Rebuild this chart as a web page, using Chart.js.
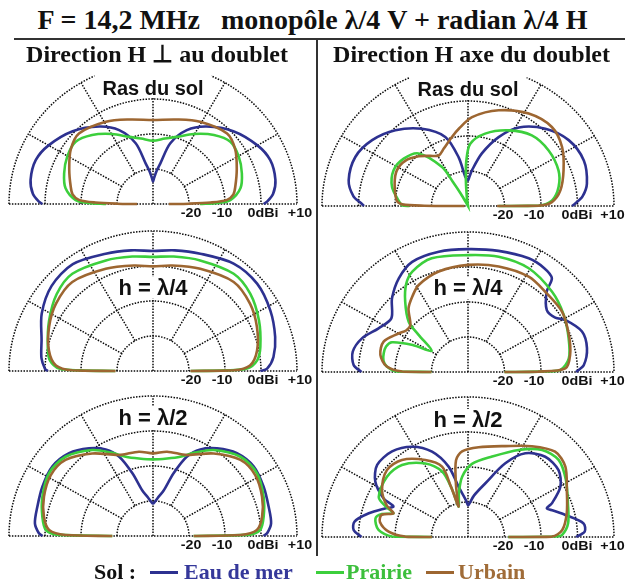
<!DOCTYPE html>
<html><head><meta charset="utf-8">
<script src="https://cdn.jsdelivr.net/npm/chart.js@4.4.0/dist/chart.umd.min.js"></script>
<style>
html,body{margin:0;padding:0;background:#fff;}
body{width:625px;height:583px;overflow:hidden;position:relative;font-family:"Liberation Serif","Times New Roman",serif;}
.t{position:absolute;white-space:pre;font-weight:bold;color:#111;line-height:1;z-index:5;}
canvas{position:absolute;z-index:1;}
.rule{position:absolute;background:#333;z-index:6;}
.dash{position:absolute;height:3px;z-index:5;}
</style></head><body>
<div class="t" style="left:0;width:625px;text-align:center;top:6px;font-size:28px;">F = 14,2 MHz   monopôle λ/4 V + radian λ/4 H</div>
<div class="rule" style="left:14px;width:611px;top:38px;height:2px;"></div>
<div class="rule" style="left:316px;width:2px;top:39px;height:517px;"></div>
<div class="t" style="left:0;width:314px;text-align:center;top:42px;font-size:24px;">Direction H ⊥ au doublet</div>
<div class="t" style="left:318px;width:307px;text-align:center;top:42px;font-size:24px;">Direction H axe du doublet</div>
<div id="legend"></div>
<script>
// ---- data: [elevation angle in degrees (0 = right horizon, 180 = left horizon), gain in dBi] ----
const RING_DB = [-20, -10, 0, 10];
const RING_LABELS = ['-20', '-10', '0dBi', '+10'];
const SPOKES = [30, 60, 90, 120, 150];
const SERIES_NAMES = ['Eau de mer', 'Prairie', 'Urbain'];
const PLOT_TITLES = ['Ras du sol', 'Ras du sol', 'h = λ/4', 'h = λ/4', 'h = λ/2', 'h = λ/2'];

const TL_SEA = [[0,0.7],[1.2,1.7],[5,3.5],[11.5,4.7],[21,4.9],[30,3.5],[43,0.5],[56,-3.3],[66,-6.9],[74.5,-12],[80,-18.2],[84,-20.5],[88,-22.7],[90,-23.6],[92,-22.7],[96,-20.5],[100,-18.2],[105.5,-12],[114,-6.9],[124,-3.3],[137,0.5],[150,3.5],[159,4.9],[168.5,4.7],[175,3.5],[178.8,1.7],[180,0.7]];
const TL_GRASS = [[0,-17],[1,-12],[3,-8.5],[10.5,-5.3],[19.6,-3.8],[29.6,-2.6],[39.6,-2.1],[49.4,-4],[60.5,-7],[70.8,-9.7],[80,-11],[90,-11.9],[100,-11],[109.2,-9.7],[119.5,-7],[130.6,-4],[140.4,-2.1],[150.4,-2.6],[160.4,-3.8],[169.5,-5.3],[177,-8.5],[179,-12],[180,-17]];
const TL_URBAN = [[0,-25.6],[0.5,-20],[1.5,-14],[3.3,-9.4],[7,-7.5],[12.3,-6.6],[22.6,-4.8],[34,-2.4],[44.4,-1.2],[60.9,-3.1],[75,-5],[90,-6],[105,-5],[119.1,-3.1],[135.6,-1.2],[146,-2.4],[157.4,-4.8],[167.7,-6.6],[173,-7.5],[176.7,-9.4],[178.5,-14],[179.5,-20],[180,-25.6]];

const TR_SEA = [[0,-1.5],[1.4,-0.6],[5,1.5],[11.1,3.2],[22.3,4.3],[34.3,3.4],[46.2,0.6],[58.2,-3.6],[66.9,-8.6],[75.8,-14.5],[83.8,-19.7],[88,-22],[90,-22.7],[92,-22.3],[95,-21.7],[100.5,-15.8],[107.5,-9.3],[119.7,-4.6],[132.6,-0.6],[144.4,2.3],[155.6,3.9],[167.4,3.5],[175,1.5],[178.6,-0.8],[180,-1.5]];
const TR_GRASS = [[0,-21.6],[0.3,-10.6],[4,-6.9],[12.3,-4.6],[22.3,-3.2],[35.7,-2.8],[49.1,-3.3],[62.8,-5.7],[77.2,-8.8],[88,-12.2],[92,-17],[94.5,-22.6],[98,-28],[104,-30],[116,-30],[119.5,-26],[121,-22],[122.6,-16.8],[132,-9.8],[142.5,-7.8],[153.4,-7.2],[165.4,-8.5],[176.6,-11.2],[179.5,-12],[180,-14]];
const TR_URBAN = [[0,-22],[0.3,-10.6],[2.8,-7],[10,-4.3],[21.3,-1.9],[33.2,0.8],[44.5,2.2],[57.8,1.2],[72.9,-1.4],[87.5,-4.6],[96.5,-7.8],[102.6,-9.8],[112,-12.3],[119,-13.5],[126,-12.3],[133.6,-10.4],[143.1,-8.5],[152.4,-8],[162.3,-8.9],[175.3,-10.4],[178.5,-12],[179.6,-18],[180,-29]];

const ML_SEA = [[0,-0.2],[1.2,1.7],[6.8,3.7],[16,5.3],[28,6.9],[40.8,8.2],[53.9,8],[68.6,6],[80,5],[90,4.3],[100,5],[111.4,6],[126.1,7.8],[139.2,7.2],[152,5],[164,2.2],[173.2,1.2],[178.8,0],[180,-0.8]];
const ML_GRASS = [[0,-19.5],[0.5,-10],[1.5,-3.9],[6,-0.9],[13,0.6],[26.2,2.8],[39.3,4.9],[51.1,5.7],[67.5,4.2],[80,3.2],[90,2.6],[100,3.2],[112.5,4.2],[128.9,5.7],[140.7,4.6],[153.8,2.2],[167,0],[174,-1.2],[178.5,-3.9],[179.5,-10],[180,-19.5]];
const ML_URBAN = [[0,-19.6],[0.5,-7.6],[3.4,-3],[11.5,-0.5],[23.6,1.5],[35.4,3.1],[48.6,3.9],[65.8,2],[80,0.6],[90,-0.1],[100,0.6],[114.2,2],[131.4,3.9],[144.6,3.1],[156.4,1.5],[168.5,-0.5],[176.6,-3],[179.5,-7.6],[180,-19.6]];

const MR_SEA = [[0,-0.4],[3.6,1.8],[11.8,3.3],[20.3,3.3],[29.2,0.5],[33,-1.5],[39.3,-2.1],[46.8,1.5],[49.4,5.3],[55,6.3],[62.9,6.5],[76.4,5.6],[90,5.1],[103.1,5.3],[115.9,5],[125.3,2.8],[134.7,-0.4],[143.9,-4],[153,-2.5],[161.7,0.6],[169.6,2.1],[176.3,1.4],[180,-0.8]];
const MR_GRASS = [[0,-20],[0.3,-10.6],[1.3,-4.7],[8,-2.1],[19.2,-0.8],[31.9,0.9],[45,2.5],[60.7,4],[75.7,4],[90,3.4],[107,4],[118,2.5],[124,0.3],[130.5,-3.5],[138.5,-8.3],[141.9,-12.8],[148.8,-18.4],[153,-13],[157.8,-7.5],[162,-6.4],[167,-6.3],[172,-6.6],[176,-7.7],[179.6,-10.5],[180,-20]];
const MR_URBAN = [[0,-20],[0.3,-10.8],[2.2,-3.3],[9.9,-1.6],[21,-0.4],[33.7,1],[47.3,1.2],[58.6,1.9],[74.4,1.3],[90,0.6],[105.6,-0.2],[118.5,-1.7],[125,-3.5],[131.9,-5.6],[139.7,-9.3],[145,-9.3],[150,-8],[159.4,-5.3],[168.5,-5.5],[176,-7.7],[179.6,-12],[180,-20]];

const BL_SEA = [[0,0.7],[1.4,1.7],[6.3,3],[14.6,3.2],[24.6,3.8],[35.3,4.3],[45.4,3.2],[54.6,0.7],[62,-2],[67.5,-5.5],[72.3,-11.2],[77,-16.6],[83,-19],[87,-20.2],[90,-20.7],[93,-20.2],[97,-19],[103,-16.6],[107.7,-11.2],[112.5,-5.5],[118,-2],[125.4,0.7],[134.6,3.2],[144.7,4.3],[155.4,3.8],[165.4,3.2],[173.7,3],[178.6,1.7],[180,0.7]];
const BL_GRASS = [[0,-18.7],[0.7,-3.9],[3.3,-0.2],[10,1.2],[20,2.7],[31.8,4],[43,3.2],[55.5,-0.2],[64,-3.5],[71.5,-6.1],[80,-7.5],[90,-8.1],[100,-7.5],[108.5,-6.1],[116,-3.5],[124.5,-0.2],[137,3.2],[148.2,4],[160,2.7],[170,1.2],[176.7,-0.2],[179.3,-3.9],[180,-18.7]];
const BL_URBAN = [[0,-18.7],[0.7,-5.7],[3.4,-1.1],[10.3,0.8],[20.3,2.3],[31.5,3.3],[41.8,2.6],[54.4,-1],[67.9,-5],[80.8,-5.6],[90,-6.4],[99.2,-5.6],[112.1,-5],[125.6,-1],[138.2,2.6],[148.5,3.3],[159.7,2.3],[169.7,0.8],[176.6,-1.1],[179.3,-5.7],[180,-18.7]];

const BR_SEA = [[0,-0.4],[2.7,2],[7,1.9],[13.3,-2.6],[18,-5.5],[20.8,-6.9],[22.7,-5.1],[29.6,-0.9],[37.6,1.3],[47.3,1.2],[56.7,-1.4],[64.1,-6.6],[72.9,-14],[82,-18],[88,-20.5],[90,-20.9],[93,-19.5],[100.2,-15.4],[104.8,-9.2],[112,-3.7],[120.7,0],[130.4,2.1],[140.4,2.3],[148.1,-0.1],[154.5,-4.4],[156.9,-7.8],[160,-6],[166,-2],[171.9,1.4],[176.3,1.4],[180,-0.8]];
const BR_GRASS = [[0,-19],[0.3,-6],[1.3,-4.2],[8.1,-2.3],[19.3,-1],[31.3,1.4],[41.6,3.2],[50.8,2.1],[60.8,-1.5],[74,-6.1],[87,-9.1],[95.3,-12.7],[101,-17],[104.5,-20],[106.6,-20.9],[108,-15],[110.8,-10],[119,-6],[131.3,-2.6],[142.2,-1.9],[154.9,-3],[159,-6],[161.6,-8.5],[164.5,-5.5],[168.2,-4.1],[175.3,-5.4],[179.6,-9.2],[180,-20.1]];
const BR_URBAN = [[0,-18.9],[0.3,-7],[4.4,-4.1],[14.1,-2.1],[26.3,0.2],[37,3.4],[45.6,4.1],[56,1.3],[68.6,-2.1],[83.5,-4.2],[93.8,-5.5],[98.5,-7.8],[102.2,-14.3],[105,-19],[106.6,-20.9],[108,-15],[109.5,-8.7],[118,-5.1],[129.4,-1.5],[139.3,-0.7],[150.4,-2.9],[158,-6],[161.6,-8.5],[165,-5.5],[170,-5.5],[176,-8.2],[179.6,-12.8],[180,-20.1]];

// ---- styles / layout ----
const COLORS = ['#2d3190', '#3ccf3c', '#9d6631'];
const LEGEND_COLORS = ['#35389a', '#3cbf3c', '#a06c38'];
const FLOOR_DB = -30, MAX_U = 40;
const NUDGE_LEFT = [2, -3, 2, 3];
const NUDGE_RIGHT = [-1.5, -7, -0.5, -1.5];

const PLOTS = [
  {left:0,   width:312, padL:9,  padR:15, base:204,   series:[TL_SEA, TL_GRASS, TL_URBAN], title:PLOT_TITLES[0], ty:116, tall:true,  fs:20, nudge:NUDGE_LEFT},
  {left:312, width:313, padL:10, padR:11, base:205.5, series:[TR_SEA, TR_GRASS, TR_URBAN], title:PLOT_TITLES[1], ty:117, tall:true,  fs:20, nudge:NUDGE_RIGHT},
  {left:0,   width:312, padL:9,  padR:15, base:370.5, series:[ML_SEA, ML_GRASS, ML_URBAN], title:PLOT_TITLES[2], ty:83.5, tall:false, fs:22, nudge:NUDGE_LEFT},
  {left:312, width:313, padL:10, padR:11, base:372,   series:[MR_SEA, MR_GRASS, MR_URBAN], title:PLOT_TITLES[3], ty:84, tall:false, fs:22, nudge:NUDGE_RIGHT},
  {left:0,   width:312, padL:9,  padR:15, base:536,   series:[BL_SEA, BL_GRASS, BL_URBAN], title:PLOT_TITLES[4], ty:118, tall:false, fs:22, nudge:NUDGE_LEFT},
  {left:312, width:313, padL:10, padR:11, base:537,   series:[BR_SEA, BR_GRASS, BR_URBAN], title:PLOT_TITLES[5], ty:117, tall:false, fs:22, nudge:NUDGE_RIGHT}
];
const PAD_TOP = 10, PLOT_H = 140, PAD_BOT = 24;

function toXY(pairs) {
  return pairs.map(([a, db]) => {
    const u = Math.max(0, db - FLOOR_DB);
    const t = a * Math.PI / 180;
    return {x: u * Math.cos(t), y: u * Math.sin(t)};
  });
}

const polarPlugin = {
  id: 'polarGrid',
  beforeDatasetsDraw(chart, args, o) {
    const {ctx} = chart;
    const x = chart.scales.x, y = chart.scales.y;
    const cx = x.getPixelForValue(0), cy = y.getPixelForValue(0);
    const rx = u => x.getPixelForValue(u) - cx;
    const ry = u => cy - y.getPixelForValue(u);
    ctx.save();
    ctx.strokeStyle = '#0a0a0a';
    ctx.lineWidth = 1.5;
    ctx.setLineDash([1.5, 1.4]);
    RING_DB.forEach(db => {
      const u = db - FLOOR_DB;
      ctx.beginPath();
      ctx.ellipse(cx, cy, rx(u), ry(u), 0, Math.PI, 2 * Math.PI);
      ctx.stroke();
    });
    ctx.beginPath();
    ctx.moveTo(x.getPixelForValue(-MAX_U), cy);
    ctx.lineTo(x.getPixelForValue(MAX_U), cy);
    ctx.stroke();
    const inner = RING_DB[0] - FLOOR_DB;
    SPOKES.forEach(a => {
      const t = a * Math.PI / 180;
      const u0 = a === 90 ? 0 : inner;
      ctx.beginPath();
      ctx.moveTo(cx + rx(u0) * Math.cos(t), cy - ry(u0) * Math.sin(t));
      ctx.lineTo(cx + rx(MAX_U) * Math.cos(t), cy - ry(MAX_U) * Math.sin(t));
      ctx.stroke();
    });
    ctx.setLineDash([]);
    ctx.fillStyle = '#111';
    ctx.font = 'bold 13px "Liberation Sans", Arial, sans-serif';
    ctx.textAlign = 'center';
    ctx.textBaseline = 'middle';
    RING_DB.forEach((db, i) => {
      ctx.save();
      ctx.translate(cx + rx(db - FLOOR_DB) + o.nudge[i], cy + 9.5);
      ctx.scale(1.1, 1);
      ctx.fillText(RING_LABELS[i], 0, 0);
      ctx.restore();
    });
    // plot title with white backing
    ctx.font = 'bold ' + o.fs + 'px "Liberation Sans", Arial, sans-serif';
    const w = ctx.measureText(o.title).width;
    const ty = cy - o.ty;
    ctx.fillStyle = '#fff';
    if (o.tall) ctx.fillRect(cx - w / 2 - 8, ty - 27, w + 16, 37);
    else ctx.fillRect(cx - w / 2 - 4, ty - 11, w + 8, 22);
    ctx.fillStyle = '#111';
    ctx.fillText(o.title, cx, ty + 1);
    ctx.restore();
  }
};

PLOTS.forEach(p => {
  const c = document.createElement('canvas');
  const h = PAD_TOP + PLOT_H + PAD_BOT;
  c.width = p.width; c.height = h;
  c.style.left = p.left + 'px';
  c.style.top = (p.base - PLOT_H - PAD_TOP) + 'px';
  c.style.width = p.width + 'px'; c.style.height = h + 'px';
  document.body.appendChild(c);
  new Chart(c, {
    type: 'scatter',
    data: {
      datasets: p.series.map((s, i) => ({
        label: SERIES_NAMES[i],
        data: toXY(s),
        showLine: true,
        borderColor: COLORS[i],
        borderWidth: 2.6,
        pointRadius: 0,
        tension: 0.3,
        fill: false,
        clip: false,
        order: 2 - i
      }))
    },
    options: {
      responsive: false,
      maintainAspectRatio: false,
      animation: false,
      events: [],
      layout: {padding: {left: p.padL, right: p.padR, top: PAD_TOP, bottom: PAD_BOT}},
      scales: {
        x: {type: 'linear', min: -MAX_U, max: MAX_U, display: false},
        y: {type: 'linear', min: 0, max: MAX_U, display: false}
      },
      plugins: {
        legend: {display: false},
        tooltip: {enabled: false},
        polarGrid: {title: p.title, ty: p.ty, tall: p.tall, fs: p.fs, nudge: p.nudge}
      }
    },
    plugins: [polarPlugin]
  });
});

// legend (HTML)
const lg = document.getElementById('legend');
const LEG_POS = [{d:150, t:184}, {d:316, t:346}, {d:426, t:458}];
const sol = document.createElement('div');
sol.className = 't'; sol.style.cssText = 'left:94px;top:561px;font-size:22px;'; sol.textContent = 'Sol :';
lg.appendChild(sol);
SERIES_NAMES.forEach((n, i) => {
  const d = document.createElement('div');
  d.className = 'dash';
  d.style.cssText = 'left:' + LEG_POS[i].d + 'px;top:571px;width:28px;background:' + COLORS[i] + ';';
  lg.appendChild(d);
  const t = document.createElement('div');
  t.className = 't';
  t.style.cssText = 'left:' + LEG_POS[i].t + 'px;top:561px;font-size:22px;color:' + LEGEND_COLORS[i] + ';';
  t.textContent = n;
  lg.appendChild(t);
});
</script>
</body></html>
